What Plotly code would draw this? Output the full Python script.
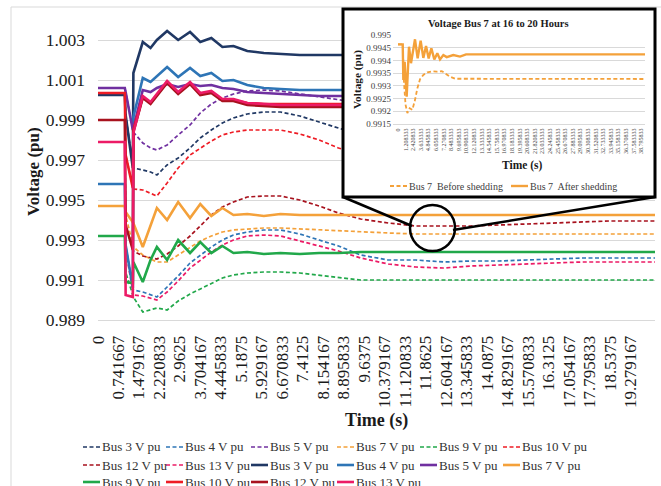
import plotly.graph_objects as go

# ---------------- data: main chart (bus voltages, pu) ----------------
TIME_S = [0, 0.97, 1.0, 1.26, 1.28, 1.62, 1.9, 2.13, 2.5, 2.9, 3.33, 3.7, 4.1, 4.5, 4.9,
          5.4, 6.0, 6.6, 7.3, 8.0, 8.7, 9.5, 10.5, 11.5, 12.5, 13.5, 14.5, 15.5, 16.5,
          17.5, 18.5, 19.5, 20.15]

# before load shedding (dashed)
B3_BEFORE = [1.00025, 1.00025, 0.99925, 0.99665, 0.9966, 0.9965, 0.9964, 0.99625, 0.99675, 0.9971,
             0.9976, 0.9981, 0.9985, 0.99885, 0.9991, 0.9993, 0.9994, 0.9994, 0.9992, 0.9989,
             0.9986, 0.99825, 0.998, 0.99775, 0.9976, 0.9975, 0.9975, 0.9975, 0.9975, 0.9975,
             0.9975, 0.9975, 0.9975]
B4_BEFORE = [0.9958, 0.9958, 0.99275, 0.9906, 0.9905, 0.9904, 0.99025, 0.99015, 0.99065, 0.9912,
             0.99185, 0.99225, 0.99265, 0.993, 0.99325, 0.9934, 0.9935, 0.9935, 0.9933, 0.993,
             0.9927, 0.99225, 0.992, 0.992, 0.9919, 0.99195, 0.99195, 0.992, 0.99205, 0.9921,
             0.9921, 0.9921, 0.9921]
B5_BEFORE = [1.0006, 1.0006, 1.0004, 0.9985, 0.9984, 0.99785, 0.9976, 0.9975, 0.99775, 0.99825,
             0.99875, 0.99935, 0.9998, 1.0001, 1.0003, 1.00045, 1.0005, 1.00045, 1.0003, 1.00015,
             1.0, 0.99985, 0.99975, 0.9997, 0.9997, 0.9997, 0.9997, 0.9997, 0.9997, 0.9997,
             0.9997, 0.9997, 0.9997]
B7_BEFORE = [0.9947, 0.9947, 0.99425, 0.99275, 0.99265, 0.99225, 0.99205, 0.9919, 0.9919, 0.99225,
             0.99265, 0.99295, 0.9932, 0.9934, 0.9935, 0.99355, 0.9936, 0.9936, 0.99355, 0.9935,
             0.99345, 0.9934, 0.99335, 0.9933, 0.9933, 0.9933, 0.9933, 0.9933, 0.9933, 0.9933,
             0.9933, 0.9933, 0.9933]
B9_BEFORE = [0.9932, 0.9932, 0.9914, 0.99025, 0.99015, 0.9894, 0.9895, 0.9896, 0.9895, 0.98995,
             0.9903, 0.99055, 0.9908, 0.9911, 0.99125, 0.99135, 0.9914, 0.9914, 0.99135, 0.99125,
             0.99115, 0.991, 0.991, 0.991, 0.991, 0.991, 0.991, 0.991, 0.991, 0.991,
             0.991, 0.991, 0.991]
B10_BEFORE = [1.00035, 1.00035, 0.99725, 0.9956, 0.99555, 0.9955, 0.99535, 0.9952, 0.99585, 0.9966,
              0.99725, 0.9976, 0.99795, 0.99825, 0.9984, 0.9985, 0.9985, 0.9985, 0.9983, 0.998,
              0.9976, 0.99725, 0.997, 0.99675, 0.9966, 0.9965, 0.9965, 0.9965, 0.9965, 0.9965,
              0.9965, 0.9965, 0.9965]
B12_BEFORE = [0.999, 0.999, 0.99375, 0.9925, 0.99245, 0.9922, 0.9921, 0.99205, 0.9923, 0.9927,
              0.9932, 0.9937, 0.99425, 0.99465, 0.9949, 0.99515, 0.9952, 0.9952, 0.995, 0.9947,
              0.99435, 0.99405, 0.99385, 0.9937, 0.9937, 0.9937, 0.99375, 0.9938, 0.99385, 0.9939,
              0.99395, 0.99395, 0.99395]
B13_BEFORE = [0.9979, 0.9979, 0.9925, 0.99035, 0.99025, 0.9902, 0.9901, 0.99, 0.9904, 0.99095,
              0.9916, 0.992, 0.9924, 0.99275, 0.993, 0.9932, 0.99325, 0.9932, 0.99295, 0.9927,
              0.99245, 0.9921, 0.9918, 0.99165, 0.9916, 0.9917, 0.99175, 0.9918, 0.99185, 0.9919,
              0.9919, 0.9919, 0.9919]

# after load shedding (solid)
B3_AFTER = [1.00025, 1.00025, 0.99925, 0.9966, 1.00135, 1.0029, 1.0026, 1.003, 1.00345, 1.003,
            1.0034, 1.0029, 1.0031, 1.00265, 1.0027, 1.00245, 1.00235, 1.0023, 1.00225, 1.00225,
            1.00225, 1.00225, 1.00225, 1.00225, 1.00225, 1.00225, 1.00225, 1.00225, 1.00225,
            1.00225, 1.00225, 1.00225, 1.00225]
B4_AFTER = [0.9958, 0.9958, 0.99275, 0.9906, 0.99915, 1.0011, 1.0009, 1.0012, 1.00165, 1.00115,
            1.0016, 1.0012, 1.00135, 1.00095, 1.001, 1.00075, 1.0006, 1.00055, 1.0005, 1.0005,
            1.0005, 1.0005, 1.0005, 1.0005, 1.0005, 1.0005, 1.0005, 1.0005, 1.0005, 1.0005,
            1.0005, 1.0005, 1.0005]
B5_AFTER = [1.0006, 1.0006, 1.0004, 0.9985, 0.9986, 1.0005, 1.0004, 1.0006, 1.0008, 1.00065,
            1.0008, 1.0007, 1.00075, 1.0006, 1.00055, 1.0004, 1.00035, 1.0003, 1.00025, 1.0002,
            1.0002, 1.0002, 1.0002, 1.0002, 1.0002, 1.0002, 1.0002, 1.0002, 1.0002, 1.0002,
            1.0002, 1.0002, 1.0002]
B7_AFTER = [0.9947, 0.9947, 0.9944, 0.9939, 0.99385, 0.99265, 0.99375, 0.9946, 0.994, 0.9949,
            0.9941, 0.9948, 0.9942, 0.9946, 0.99425, 0.9943, 0.9942, 0.9943, 0.99425, 0.99425,
            0.99425, 0.99425, 0.99425, 0.99425, 0.99425, 0.99425, 0.99425, 0.99425, 0.99425,
            0.99425, 0.99425, 0.99425, 0.99425]
B9_AFTER = [0.9932, 0.9932, 0.9909, 0.99085, 0.9919, 0.9909, 0.992, 0.99265, 0.992, 0.993,
            0.99235, 0.9929, 0.99235, 0.9927, 0.99235, 0.9924, 0.9923, 0.99235, 0.9923, 0.99235,
            0.99235, 0.9924, 0.9924, 0.9924, 0.9924, 0.9924, 0.9924, 0.9924, 0.9924, 0.9924,
            0.9924, 0.9924, 0.9924]
B10_AFTER = [1.00035, 1.00035, 0.99725, 0.9956, 0.9985, 1.00015, 0.99985, 1.00025, 1.0009, 1.00035,
             1.00085, 1.0003, 1.0004, 1.0, 1.0, 0.99985, 0.9998, 0.9998, 0.9998, 0.9998,
             0.9998, 0.9998, 0.9998, 0.9998, 0.9998, 0.9998, 0.9998, 0.9998, 0.9998, 0.9998,
             0.9998, 0.9998, 0.9998]
B12_AFTER = [0.999, 0.999, 0.99375, 0.9925, 0.9984, 1.0001, 0.9998, 1.0002, 1.00085, 1.0003,
             1.0008, 1.00025, 1.00035, 0.99995, 0.99995, 0.99975, 0.9997, 0.99965, 0.99965, 0.99965,
             0.99965, 0.99965, 0.99965, 0.99965, 0.99965, 0.99965, 0.99965, 0.99965, 0.99965,
             0.99965, 0.99965, 0.99965, 0.99965]
B13_AFTER = [0.9979, 0.9979, 0.99025, 0.99015, 0.99835, 1.0002, 0.9999, 1.0003, 1.00095, 1.0004,
             1.0009, 1.00035, 1.00045, 1.00005, 1.00005, 0.99985, 0.9998, 0.99975, 0.99975, 0.99975,
             0.99975, 0.99975, 0.99975, 0.99975, 0.99975, 0.99975, 0.99975, 0.99975, 0.99975,
             0.99975, 0.99975, 0.99975, 0.99975]

X_TICK_LABELS = ["0", "0.741667", "1.479167", "2.220833", "2.9625", "3.704167", "4.445833",
                 "5.1875", "5.929167", "6.670833", "7.4125", "8.154167", "8.895833", "9.6375",
                 "10.379167", "11.120833", "11.8625", "12.604167", "13.345833", "14.0875",
                 "14.829167", "15.570833", "16.3125", "17.054167", "17.795833", "18.5375",
                 "19.279167"]
Y_TICK_LABELS = ["0.989", "0.991", "0.993", "0.995", "0.997", "0.999", "1.001", "1.003"]

# ---------------- data: inset (Bus 7, 16 to 20 hours) ----------------
INSET_T_BEFORE = [0, 0.75, 0.96, 1.2, 1.49, 1.86, 2.28, 2.71, 3.08, 3.51, 4.04, 4.68, 5.37,
                  6.17, 6.97, 7.66, 8.3, 9.1, 39.4]
INSET_V_BEFORE = [0.99463, 0.99463, 0.9931, 0.99226, 0.99193, 0.99212, 0.99206, 0.99244, 0.9929,
                  0.99326, 0.99343, 0.99353, 0.99357, 0.99356, 0.99358, 0.99347, 0.99336,
                  0.99328, 0.99327]
INSET_T_AFTER = [0, 0.75, 0.85, 1.06, 1.38, 1.75, 2.07, 2.71, 3.13, 3.61, 4.04, 4.47, 4.89,
                 5.32, 5.79, 6.27, 6.70, 7.23, 7.76, 8.82, 9.89, 10.85, 39.4]
INSET_V_AFTER = [0.99463, 0.99463, 0.99323, 0.99395, 0.99257, 0.99454, 0.99389, 0.99483, 0.99408,
                 0.99478, 0.9941, 0.99457, 0.99408, 0.99448, 0.99404, 0.99428, 0.99404, 0.99421,
                 0.99413, 0.99421, 0.99415, 0.99424, 0.99424]
INSET_X_TICK_LABELS = ["0", "1.208333", "2.420833", "3.633333", "4.845833", "6.058333", "7.270833",
                       "8.483333", "9.695833", "10.908333", "12.120833", "13.333333", "14.545833",
                       "15.758333", "16.970833", "18.183333", "19.395833", "20.608333", "21.820833",
                       "23.033333", "24.245833", "25.458333", "26.670833", "27.883333", "29.095833",
                       "30.308333", "31.520833", "32.733333", "33.945833", "35.158333", "36.370833",
                       "37.583333", "38.795833"]
INSET_Y_TICK_LABELS = ["0.9915", "0.992", "0.9925", "0.993", "0.9935", "0.994", "0.9945", "0.995"]

BUSES = ["Bus 3", "Bus 4", "Bus 5", "Bus 7", "Bus 9", "Bus 10", "Bus 12", "Bus 13"]
BEFORE = [B3_BEFORE, B4_BEFORE, B5_BEFORE, B7_BEFORE, B9_BEFORE, B10_BEFORE, B12_BEFORE, B13_BEFORE]
AFTER = [B3_AFTER, B4_AFTER, B5_AFTER, B7_AFTER, B9_AFTER, B10_AFTER, B12_AFTER, B13_AFTER]
COLORS = ["#203864", "#2E75B6", "#7030A0", "#F4A13A", "#21A84A", "#EE1C25", "#A8121E", "#EC1B66"]

# ---------------- layout geometry ----------------
W, H = 661, 486
ML, MR, MT, MB = 98, 6, 5, 166
PW = W - ML - MR
PH = H - MT - MB
FONT = "Liberation Serif"
DASH = "4px,2.5px"


def px(x):
    return (x - ML) / PW


def py(y):
    return (H - MB - y) / PH


def label(x, y, text, size, color="#1a1a1a", angle=0, xanchor="center"):
    return dict(xref="paper", yref="paper", x=px(x), y=py(y), text=text, textangle=angle,
                showarrow=False, xanchor=xanchor, yanchor="middle",
                font=dict(family=FONT, size=size, color=color))


fig = go.Figure()

# main chart: dashed (before) then solid (after)
for name, vals, col in zip(BUSES, BEFORE, COLORS):
    fig.add_trace(go.Scatter(x=TIME_S, y=vals, mode="lines", name=name + " V pu",
                             line=dict(color=col, width=1.7, dash=DASH), showlegend=False))
for name, vals, col in zip(BUSES, AFTER, COLORS):
    fig.add_trace(go.Scatter(x=TIME_S, y=vals, mode="lines", name=name + " V pu",
                             line=dict(color=col, width=2.6), showlegend=False))

# opaque panel behind the inset
fig.add_trace(go.Scatter(x=[], y=[], xaxis="x2", yaxis="y2", showlegend=False))

# inset chart
fig.add_trace(go.Scatter(x=INSET_T_BEFORE, y=INSET_V_BEFORE, mode="lines", xaxis="x3", yaxis="y3",
                         name="Bus 7  Before shedding", showlegend=False,
                         line=dict(color=COLORS[3], width=1.8, dash=DASH)))
fig.add_trace(go.Scatter(x=INSET_T_AFTER, y=INSET_V_AFTER, mode="lines", xaxis="x3", yaxis="y3",
                         name="Bus 7  After shedding", showlegend=False,
                         line=dict(color=COLORS[3], width=2.4)))

shapes = []
annotations = []

# chart frame
shapes.append(dict(type="rect", xref="paper", yref="paper", x0=px(11), x1=px(720), y0=py(560), y1=py(7),
                   line=dict(color="#D9D9D9", width=1), layer="below"))

# main legend (6 columns)
LEG_COLS = [83, 166, 251, 337, 420, 503]
LEG_ROWS = [447, 465, 482]
legend_items = [(b + " V pu", c, True) for b, c in zip(BUSES, COLORS)] + \
               [(b + " V pu", c, False) for b, c in zip(BUSES, COLORS)]
for i, (text, col, dashed) in enumerate(legend_items):
    x0 = LEG_COLS[i % 6]
    yy = LEG_ROWS[i // 6]
    shapes.append(dict(type="line", xref="paper", yref="paper", x0=px(x0), x1=px(x0 + 17),
                       y0=py(yy), y1=py(yy), layer="above",
                       line=dict(color=col, width=1.7 if dashed else 2.6, dash=DASH if dashed else "solid")))
    annotations.append(label(x0 + 17, yy, text, 13, "#333333", xanchor="left"))

# axis titles for main chart
annotations.append(label(33, 172, "<b>Voltage (pu)</b>", 17, angle=-90))
annotations.append(label(376, 420, "<b>Time (s)</b>", 18))

# inset titles
annotations.append(label(498, 23, "<b>Voltage Bus 7 at 16 to 20 Hours</b>", 10.5))
annotations.append(label(357, 80, "<b>Voltage (pu)</b>", 11.3, angle=-90))
annotations.append(label(522, 165, "<b>Time (s)</b>", 11.5))

# inset legend
inset_leg = [(390, "Bus 7  Before shedding", True), (511, "Bus 7  After shedding", False)]
for x0, text, dashed in inset_leg:
    shapes.append(dict(type="line", xref="paper", yref="paper", x0=px(x0), x1=px(x0 + 17),
                       y0=py(186), y1=py(186), layer="above",
                       line=dict(color=COLORS[3], width=1.8 if dashed else 2.4,
                                 dash=DASH if dashed else "solid")))
    annotations.append(label(x0 + 17, 186, text, 10, "#404040", xanchor="left"))

# inset frame, zoom circle and connectors
shapes.append(dict(type="rect", xref="paper", yref="paper", x0=px(343), x1=px(655), y0=py(197), y1=py(9),
                   line=dict(color="black", width=3), layer="above"))
shapes.append(dict(type="circle", xref="paper", yref="paper", x0=px(410), x1=px(455), y0=py(251), y1=py(205),
                   line=dict(color="black", width=2.5), layer="above"))
shapes.append(dict(type="line", xref="paper", yref="paper", x0=px(343), x1=px(412), y0=py(197), y1=py(226),
                   line=dict(color="black", width=2.5), layer="above"))
shapes.append(dict(type="line", xref="paper", yref="paper", x0=px(655), x1=px(453), y0=py(197), y1=py(230),
                   line=dict(color="black", width=2.5), layer="above"))

fig.update_layout(
    width=W, height=H,
    margin=dict(l=ML, r=MR, t=MT, b=MB, autoexpand=False),
    paper_bgcolor="white", plot_bgcolor="white",
    showlegend=False,
    font=dict(family=FONT, color="#1a1a1a"),
    shapes=shapes, annotations=annotations,
    xaxis=dict(domain=[0, 1], range=[0, 20.15], tickmode="array",
               tickvals=[float(s) for s in X_TICK_LABELS], ticktext=X_TICK_LABELS,
               tickangle=-90, showgrid=False, zeroline=False, showline=True,
               linecolor="#D9D9D9", linewidth=1, ticks="", ticklabelstandoff=8,
               tickfont=dict(family=FONT, size=17, color="#1a1a1a")),
    yaxis=dict(domain=[0, py(20)], range=[0.989, 1.004], tickmode="array",
               tickvals=[float(s) for s in Y_TICK_LABELS], ticktext=Y_TICK_LABELS,
               showgrid=True, gridcolor="#D9D9D9", gridwidth=1, zeroline=False,
               showline=False, ticks="", ticklabelstandoff=12,
               tickfont=dict(family=FONT, size=17.5, color="#1a1a1a")),
    xaxis2=dict(domain=[px(342), 1], range=[0, 1], visible=False, anchor="y2"),
    yaxis2=dict(domain=[py(198), py(8)], range=[0, 1], visible=False, anchor="x2"),
    xaxis3=dict(domain=[px(393), px(645)], range=[-0.8, 39.4], anchor="y3", tickmode="array",
                tickvals=[float(s) for s in INSET_X_TICK_LABELS], ticktext=INSET_X_TICK_LABELS,
                tickangle=-90, showgrid=False, zeroline=False, showline=True, linecolor="#D9D9D9",
                ticks="", ticklabelstandoff=1, tickfont=dict(family=FONT, size=6, color="#404040")),
    yaxis3=dict(domain=[py(124), py(35)], range=[0.9915, 0.995], anchor="x3", tickmode="array",
                tickvals=[float(s) for s in INSET_Y_TICK_LABELS], ticktext=INSET_Y_TICK_LABELS,
                showgrid=True, gridcolor="#D9D9D9", zeroline=False, showline=False, ticks="",
                ticklabelstandoff=1, tickfont=dict(family=FONT, size=9, color="#404040")),
)

fig.write_html("out.html")
